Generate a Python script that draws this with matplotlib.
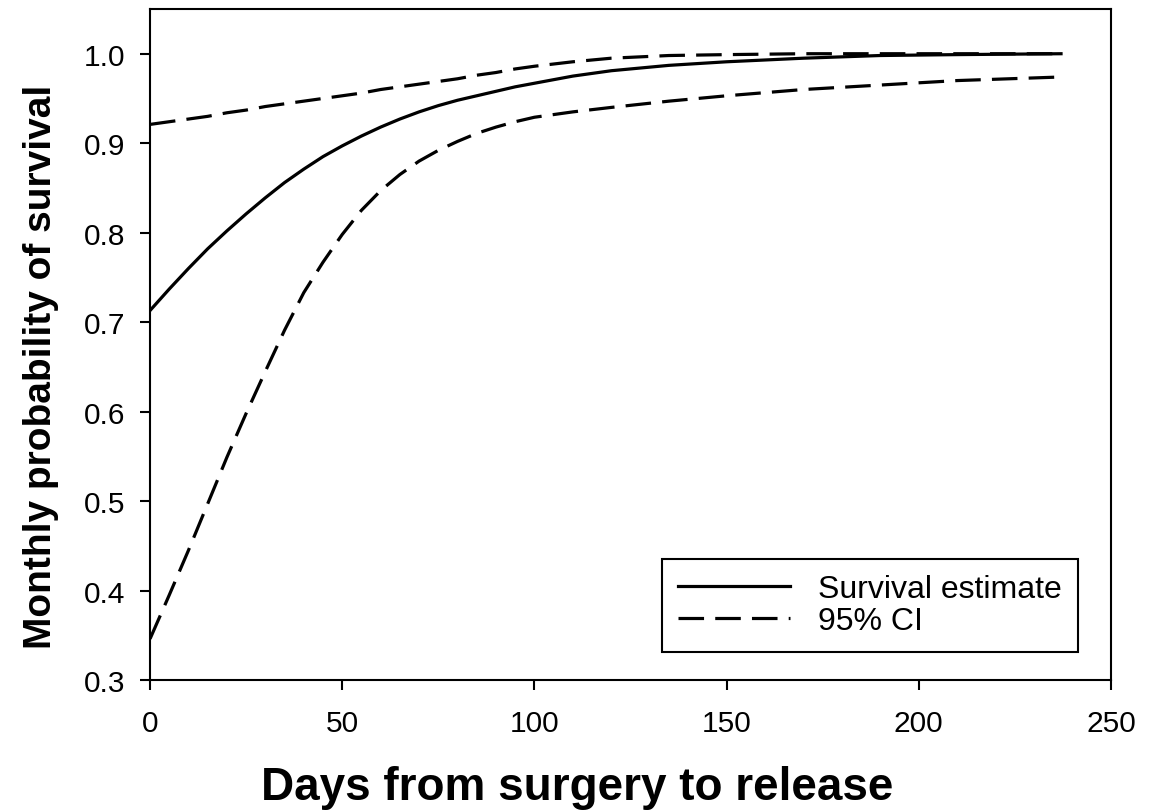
import numpy as np
import matplotlib
matplotlib.use("Agg")
import matplotlib.pyplot as plt

plt.rcParams["font.family"] = ["Liberation Sans", "DejaVu Sans"]

# values
days = [0, 5, 10, 15, 20, 25, 30, 35, 40, 45, 50, 55, 60, 65, 70, 75, 80,
        85, 90, 95, 100, 110, 120, 135, 150, 170, 190, 210, 237]

estimate = [0.713, 0.737, 0.760, 0.782, 0.802, 0.821, 0.839, 0.856, 0.871,
            0.885, 0.897, 0.908, 0.918, 0.927, 0.935, 0.942, 0.948, 0.953,
            0.958, 0.963, 0.967, 0.975, 0.981, 0.987, 0.991, 0.995, 0.998,
            0.999, 1.000]

ci_upper = [0.921, 0.924, 0.927, 0.930, 0.934, 0.937, 0.941, 0.944, 0.947,
            0.950, 0.953, 0.956, 0.960, 0.963, 0.966, 0.969, 0.972, 0.976,
            0.979, 0.983, 0.986, 0.991, 0.995, 0.998, 0.999, 1.000, 1.000,
            1.000, 1.000]

ci_lower = [0.346, 0.395, 0.445, 0.497, 0.549, 0.598, 0.645, 0.691, 0.733,
            0.767, 0.798, 0.825, 0.847, 0.865, 0.880, 0.892, 0.902, 0.911,
            0.918, 0.924, 0.929, 0.935, 0.940, 0.947, 0.953, 0.960, 0.965,
            0.970, 0.974]

xticks = [0, 50, 100, 150, 200, 250]
yticks = [0.3, 0.4, 0.5, 0.6, 0.7, 0.8, 0.9, 1.0]


fig = plt.figure(figsize=(11.55, 8.12), dpi=100, facecolor="w")
ax = fig.add_axes([0.1299, 0.1613, 0.8320, 0.8264])

dash = (8, 3.5)

ax.plot(days, estimate, "-", color="k", lw=2.3, label="Survival estimate")
ax.plot(days, ci_upper, "--", color="k", lw=2.3, dashes=dash, label="95% CI")
ax.plot(days, ci_lower, "--", color="k", lw=2.3, dashes=dash)

ax.set_xlim(0, 250)
ax.set_ylim(0.3, 1.05)
ax.set_xticks(xticks)
ax.set_yticks(yticks)
ax.set_xticklabels([str(t) for t in xticks])
ax.set_yticklabels(["%.1f" % t for t in yticks])

for s in ax.spines.values():
    s.set_linewidth(1.5)

ax.tick_params(axis="both", direction="out", length=7, width=1.5,
               labelsize=21.5)
ax.tick_params(axis="x", pad=14)
ax.tick_params(axis="y", pad=11)

# labels sit off-centre relative to the axes in the original
ax.set_xlabel("Days from surgery to release", fontsize=33,
              fontweight="bold")
ax.xaxis.set_label_coords(0.444, -0.127)
ax.set_ylabel("Monthly probability of survival", fontsize=28,
              fontweight="bold")
ax.yaxis.set_label_coords(-0.095, 0.468)

leg = ax.legend(loc="lower right", bbox_to_anchor=(0.9657, 0.0417),
                fontsize=23, fancybox=False, framealpha=1.0,
                edgecolor="k", handlelength=3.5, borderpad=0.5,
                labelspacing=0.05, handletextpad=0.9, borderaxespad=0.0)
leg.get_frame().set_linewidth(1.5)

fig.savefig("out.png", dpi=100)
